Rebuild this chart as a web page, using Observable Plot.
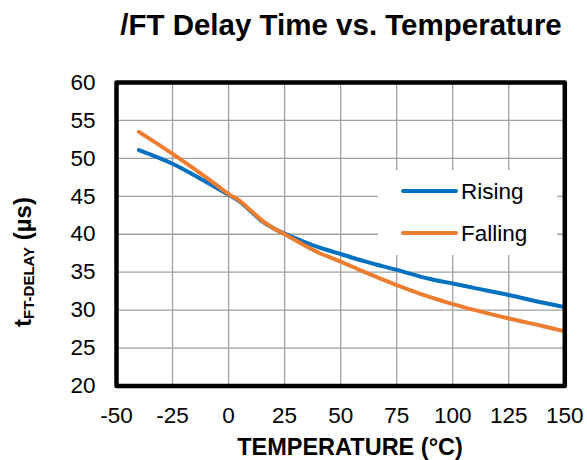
<!DOCTYPE html>
<html>
<head>
<meta charset="utf-8">
<script src="https://cdn.jsdelivr.net/npm/d3@7"></script>
<script src="https://cdn.jsdelivr.net/npm/@observablehq/plot@0.6"></script>
<style>
  html, body { margin: 0; padding: 0; background: #fff; }
  svg { display: block; }
</style>
</head>
<body>
<div id="chart"></div>
<script>
// Temperature (°C) sample points
const temps = [-40, -25, -10, 0, 5, 10, 15, 20, 25, 40, 50, 60, 75, 90, 100, 110, 125, 140, 150];
// /FT delay time (µs), rising edge
const rising = [51.1, 49.3, 46.9, 45.2, 44.3, 43.0, 41.7, 40.8, 40.1, 38.3, 37.4, 36.5, 35.3, 34.1, 33.5, 32.9, 32.0, 31.0, 30.4];
// /FT delay time (µs), falling edge
const falling = [53.5, 50.6, 47.5, 45.3, 44.4, 43.1, 41.8, 40.8, 40.0, 37.6, 36.4, 35.1, 33.3, 31.7, 30.8, 30.0, 28.9, 27.9, 27.2];

const xTicks = [-50, -25, 0, 25, 50, 75, 100, 125, 150];
const yTicks = [20, 25, 30, 35, 40, 45, 50, 55, 60];

const seriesNames = ["Rising", "Falling"];
const seriesColors = ["#0070C0", "#ED7D31"];

const titleText = "/FT Delay Time vs. Temperature";
const xLabel = "TEMPERATURE (°C)";

const risingData = temps.map((t, i) => ({t, v: rising[i]}));
const fallingData = temps.map((t, i) => ({t, v: falling[i]}));

const font = "Arial, 'Liberation Sans', Helvetica, sans-serif";

const chart = Plot.plot({
  width: 587,
  height: 460,
  marginTop: 82,
  marginBottom: 74.5,
  marginLeft: 116,
  marginRight: 22.7,
  style: {fontFamily: font, fontSize: "22.5px", background: "#fff", color: "#000"},
  x: {domain: [-50, 150]},
  y: {domain: [20, 60]},
  marks: [
    Plot.gridX(xTicks, {stroke: "#a0a0a0", strokeOpacity: 1, strokeWidth: 1.3}),
    Plot.gridY(yTicks, {stroke: "#a0a0a0", strokeOpacity: 1, strokeWidth: 1.3}),
    Plot.axisX(xTicks, {tickSize: 0, tickPadding: 21, label: null, tickFormat: d => String(d)}),
    Plot.axisY(yTicks, {tickSize: 0, tickPadding: 21, label: null, tickFormat: d => String(d)}),
    Plot.line(risingData, {x: "t", y: "v", stroke: seriesColors[0], strokeWidth: 4, curve: "catmull-rom"}),
    Plot.line(fallingData, {x: "t", y: "v", stroke: seriesColors[1], strokeWidth: 4, curve: "catmull-rom"}),
    Plot.frame({stroke: "#000", strokeWidth: 4.5, strokeLinejoin: "round"})
  ]
});

document.getElementById("chart").appendChild(chart);

const svg = d3.select(chart);

// Chart title
svg.append("text")
  .attr("x", 341).attr("y", 35)
  .attr("text-anchor", "middle")
  .attr("font-family", font).attr("font-weight", "bold").attr("font-size", 29.5)
  .attr("fill", "#000")
  .text(titleText);

// X axis title
svg.append("text")
  .attr("x", 350).attr("y", 455)
  .attr("text-anchor", "middle")
  .attr("font-family", font).attr("font-weight", "bold").attr("font-size", 23.5)
  .attr("fill", "#000")
  .text(xLabel);

// Y axis title with subscript
const yl = svg.append("text")
  .attr("transform", "translate(31,262) rotate(-90)")
  .attr("text-anchor", "middle")
  .attr("font-family", font).attr("font-weight", "bold").attr("font-size", 24)
  .attr("fill", "#000");
yl.append("tspan").text("t");
yl.append("tspan").attr("font-size", 15).attr("dy", 3).text("FT-DELAY");
yl.append("tspan").attr("dy", -3).text("\u00a0(µs)");

// Legend
const legend = svg.append("g");
legend.append("rect")
  .attr("x", 378).attr("y", 170).attr("width", 179).attr("height", 85)
  .attr("fill", "#fff");
seriesNames.forEach((name, i) => {
  const y = 191 + i * 42;
  legend.append("line")
    .attr("x1", 403).attr("x2", 456).attr("y1", y).attr("y2", y)
    .attr("stroke", seriesColors[i]).attr("stroke-width", 4).attr("stroke-linecap", "round");
  legend.append("text")
    .attr("x", 461).attr("y", y).attr("dy", "0.35em")
    .attr("text-anchor", "start")
    .attr("font-family", font).attr("font-size", 22.5).attr("fill", "#000")
    .text(name);
});
</script>
</body>
</html>
